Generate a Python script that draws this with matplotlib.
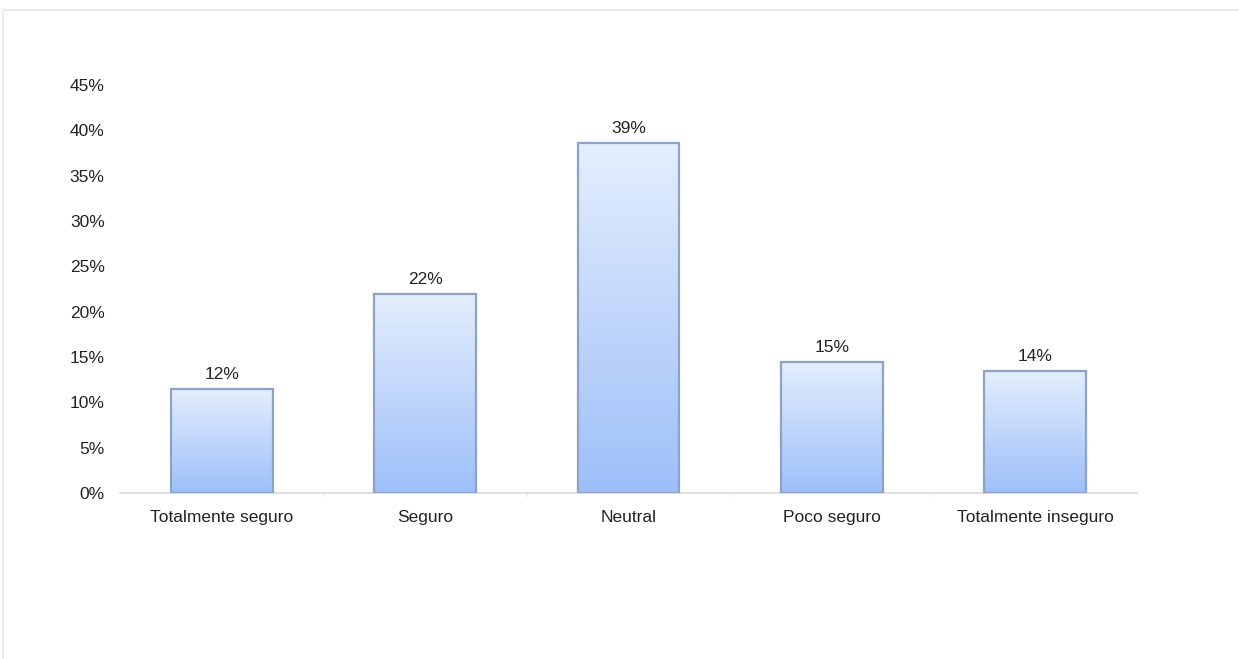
import numpy as np
import matplotlib
matplotlib.use("Agg")
import matplotlib.pyplot as plt
from matplotlib.colors import LinearSegmentedColormap
from matplotlib.lines import Line2D
from matplotlib.ticker import FixedLocator, MultipleLocator, FuncFormatter

categories = ["Totalmente seguro", "Seguro", "Neutral", "Poco seguro", "Totalmente inseguro"]
values = [0.115, 0.220, 0.386, 0.145, 0.135]
value_labels = ["12%", "22%", "39%", "15%", "14%"]

plt.rcParams['font.family'] = ['Liberation Sans', 'DejaVu Sans']

W, H = 1239, 659
fig = plt.figure(figsize=(W / 100, H / 100), dpi=100)
ax = fig.add_axes([120 / W, 1 - 493 / H, (1137 - 120) / W, (493 - 85) / H])

x = np.arange(len(categories))
bars = ax.bar(x, values, width=0.5, facecolor='none', edgecolor='#8DA2C4', linewidth=1.6, zorder=3)

cmap = LinearSegmentedColormap.from_list('g', ['#9DBFF9', '#E4EEFD'])
grad = np.linspace(0, 1, 256).reshape(-1, 1)
for b in bars:
    x0, y0 = b.get_x(), b.get_y()
    w, h = b.get_width(), b.get_height()
    im = ax.imshow(grad, extent=[x0, x0 + w, y0, y0 + h], origin='lower',
                   cmap=cmap, aspect='auto', zorder=2)
    im.set_clip_path(b)

for xi, v, lab in zip(x, values, value_labels):
    ax.annotate(lab, (xi, v), xytext=(0, 5), textcoords='offset points',
                ha='center', va='bottom', fontsize=12.5, color='#222222')

ax.set_xlim(-0.5, len(categories) - 0.5)
ax.set_ylim(0, 0.45)
ax.yaxis.set_major_locator(MultipleLocator(0.05))
ax.yaxis.set_major_formatter(FuncFormatter(lambda v, p: f"{v*100:.0f}%"))
ax.set_xticks(x)
ax.set_xticklabels(categories)
ax.xaxis.set_minor_locator(FixedLocator(np.arange(0.5, len(categories) - 0.5, 1)))

for s in ['top', 'right', 'left']:
    ax.spines[s].set_visible(False)
ax.spines['bottom'].set_color('#D9D9D9')
ax.spines['bottom'].set_linewidth(1.2)

ax.tick_params(axis='y', length=0, pad=11, labelsize=12.5, labelcolor='#222222')
ax.tick_params(axis='x', which='major', length=0, pad=12, labelsize=12.5, labelcolor='#222222')
ax.tick_params(axis='x', which='minor', length=3, color='#EAEAEA', direction='out')

# faint outer frame
fig.add_artist(Line2D([3 / W, 1], [1 - 10 / H, 1 - 10 / H], color='#EBEBEB', lw=1.5))
fig.add_artist(Line2D([3 / W, 3 / W], [0, 1 - 10 / H], color='#EBEBEB', lw=1.5))

fig.savefig("out.png", dpi=100, facecolor='white')
